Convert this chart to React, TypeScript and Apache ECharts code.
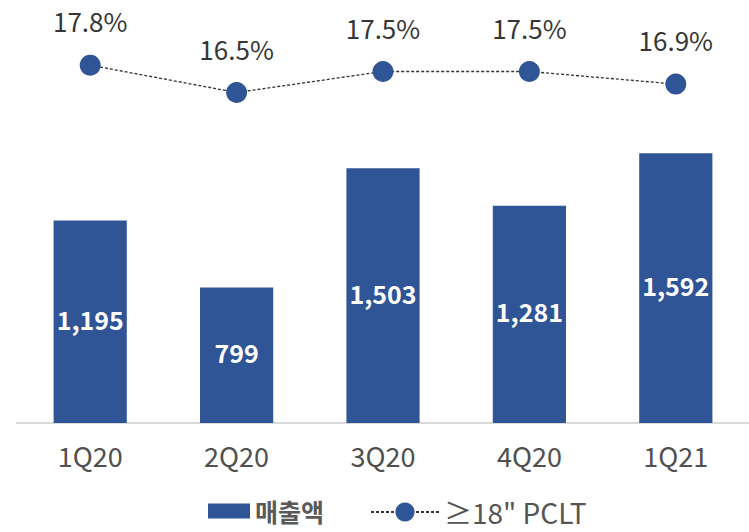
import React, { useEffect, useRef } from "react";
import * as echarts from "echarts";

const categories = ["1Q20", "2Q20", "3Q20", "4Q20", "1Q21"];
const sales = [1195, 799, 1503, 1281, 1592];
const pcltShare = [17.8, 16.5, 17.5, 17.5, 16.9];
const salesName = "매출액";
const pcltName = "≥18\" PCLT";

const FONT = "'Noto Sans CJK KR', 'Noto Sans', sans-serif";

export default function App() {
  const ref = useRef<HTMLDivElement>(null);
  useEffect(() => {
    if (!ref.current) return;
    const chart = echarts.init(ref.current, null, { renderer: "svg" });
    chart.setOption({
      animation: false,
      textStyle: { fontFamily: FONT },
      grid: [
        { left: 17, right: -3, top: 84, bottom: 109 },
        { left: 17, right: -3, top: 19, height: 105 },
      ],
      legend: [
        {
          data: [{ name: salesName, icon: "rect" }],
          left: 208,
          top: 497,
          padding: 0,
          itemWidth: 42,
          itemHeight: 15,
          textStyle: { fontFamily: FONT, fontSize: 25, fontWeight: "bold", color: "#595959", lineHeight: 28 },
        },
        {
          data: [{ name: pcltName }],
          left: 370,
          top: 497,
          padding: 0,
          itemWidth: 68,
          itemHeight: 24,
          itemGap: 10,
          textStyle: { fontFamily: FONT, fontSize: 28, color: "#555555", lineHeight: 30 },
        },
      ],
      xAxis: [
        {
          type: "category",
          gridIndex: 0,
          data: categories,
          axisLine: { lineStyle: { color: "#d9d9d9", width: 2 } },
          axisTick: { show: false },
          axisLabel: { color: "#505050", fontSize: 27, margin: 19, fontFamily: FONT },
        },
        {
          type: "category",
          gridIndex: 1,
          data: categories,
          show: false,
        },
      ],
      yAxis: [
        { type: "value", gridIndex: 0, min: 0, max: 2000, show: false },
        { type: "value", gridIndex: 1, min: 15, max: 20, show: false },
      ],
      series: [
        {
          name: salesName,
          type: "bar",
          xAxisIndex: 0,
          yAxisIndex: 0,
          data: sales,
          barWidth: "50%",
          itemStyle: { color: "#2f5597" },
          label: {
            show: true,
            position: "inside",
            offset: [0, -3],
            color: "#ffffff",
            fontSize: 25,
            fontWeight: "bold",
            fontFamily: FONT,
            formatter: (p: any) => Number(p.value).toLocaleString("en-US"),
          },
        },
        {
          name: pcltName,
          type: "line",
          xAxisIndex: 1,
          yAxisIndex: 1,
          data: pcltShare,
          symbol: "circle",
          symbolSize: 21,
          clip: false,
          itemStyle: { color: "#2f5597" },
          lineStyle: { color: "#333333", width: 1.3, type: [3, 2] },
          label: {
            show: true,
            position: "top",
            distance: 21,
            color: "#363636",
            fontSize: 26,
            fontFamily: FONT,
            formatter: (p: any) => Number(p.value).toFixed(1) + "%",
          },
        },
      ],
    });
    return () => chart.dispose();
  }, []);
  return (
    <div
      ref={ref}
      style={{ position: "fixed", left: 0, top: 0, width: 749, height: 532, background: "#fff" }}
    />
  );
}
